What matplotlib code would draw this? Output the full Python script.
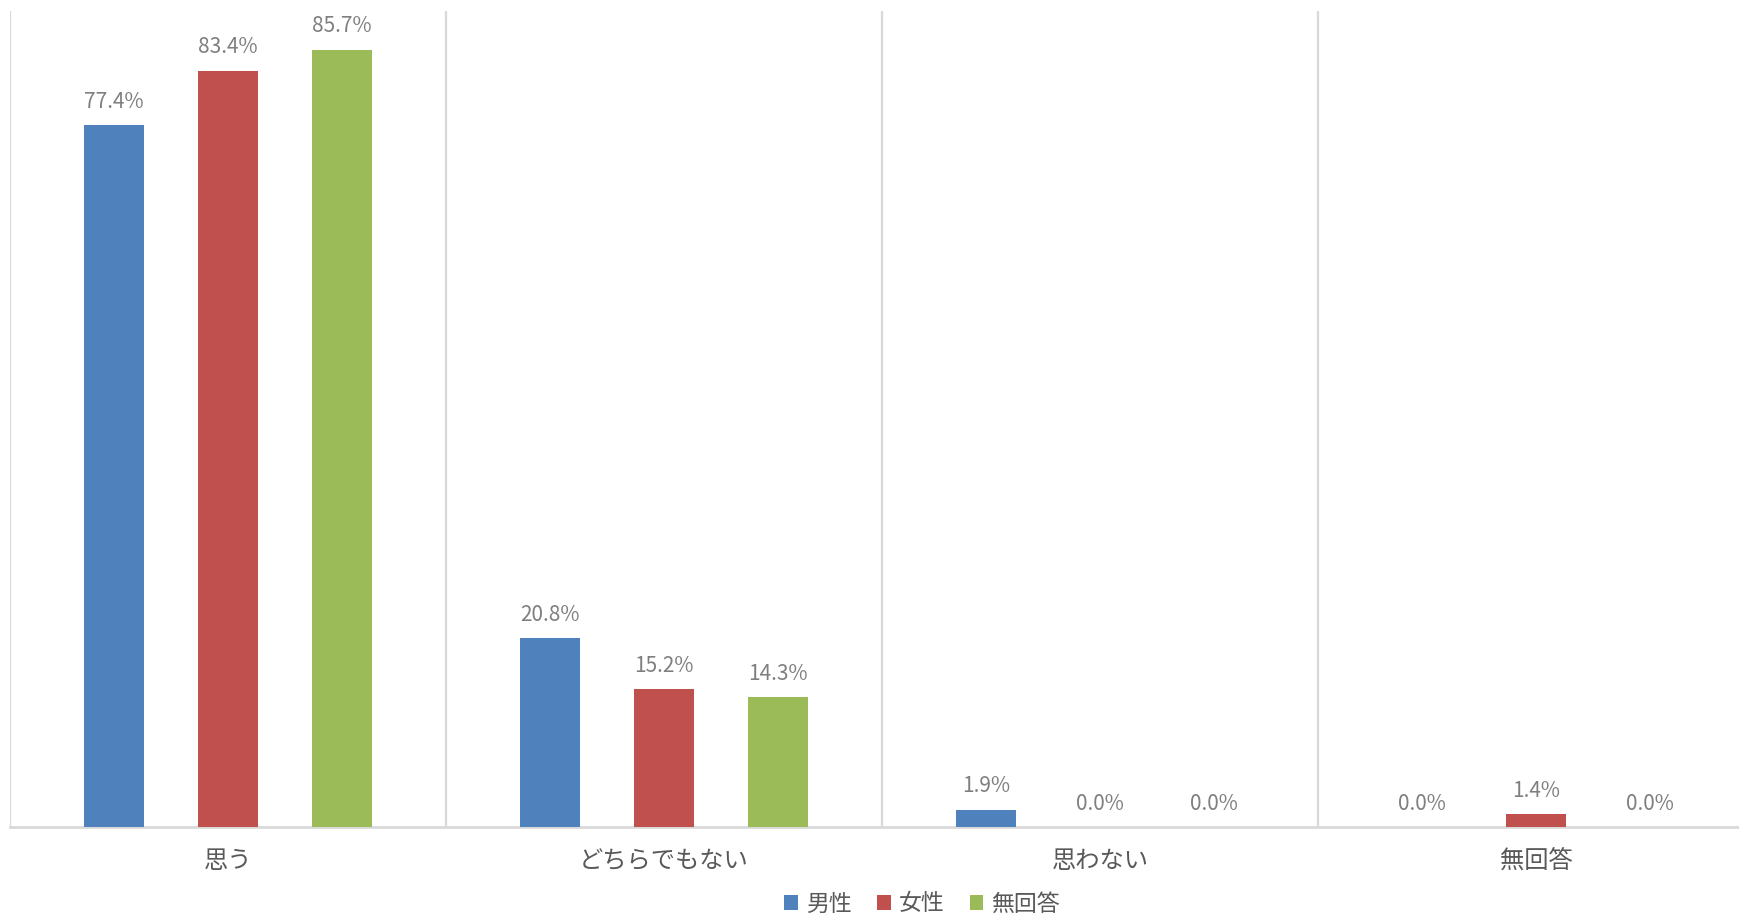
import numpy as np
import matplotlib
matplotlib.use('Agg')
import matplotlib.pyplot as plt
from matplotlib.patches import Patch

plt.rcParams['font.family'] = ['Noto Sans CJK JP', 'DejaVu Sans']

categories = ['思う', 'どちらでもない', '思わない', '無回答']
series_names = ['男性', '女性', '無回答']
male = [77.4, 20.8, 1.9, 0.0]
female = [83.4, 15.2, 0.0, 1.4]
no_answer = [85.7, 14.3, 0.0, 0.0]
colors = ['#4f81bd', '#c0504d', '#9bbb59']

fig = plt.figure(figsize=(17.4, 9.14), dpi=100)
ax = fig.add_axes([10 / 1740, 87 / 914, 1744 / 1740, 816 / 914])

x = np.arange(len(categories))
spacing = 0.261
width = 0.138
grid_color = '#d9d9d9'

for i, (vals, c) in enumerate(zip([male, female, no_answer], colors)):
    pos = x + (i - 1) * spacing
    ax.bar(pos, vals, width=width, color=c, zorder=3)
    for px, v in zip(pos, vals):
        ax.annotate('{:.1f}%'.format(v), (px, v), xytext=(0, 9),
                    textcoords='offset points', ha='center', va='bottom',
                    fontsize=15, color='#7f7f7f')

ax.set_xlim(-0.5, len(categories) - 0.5)
ax.set_ylim(0, 90)

# category separators
for b in np.arange(len(categories)) - 0.5:
    ax.axvline(b, color=grid_color, lw=1.6, zorder=1)

for s in ['top', 'right', 'left']:
    ax.spines[s].set_visible(False)
ax.spines['bottom'].set_color(grid_color)
ax.spines['bottom'].set_linewidth(2)

ax.set_yticks([])
ax.set_xticks(x)
ax.set_xticklabels(categories, fontsize=17.5, color='#595959')
ax.tick_params(axis='x', length=0, pad=15)

handles = [Patch(facecolor=c, edgecolor='none') for c in colors]
fig.legend(handles, series_names, loc='center', bbox_to_anchor=(922 / 1740, 1 - 904 / 914),
           ncol=3, frameon=False, fontsize=16.5, handlelength=0.6, handleheight=0.6,
           handletextpad=0.35, columnspacing=1.1, labelcolor='#595959')

plt.savefig('out.png', dpi=100)
